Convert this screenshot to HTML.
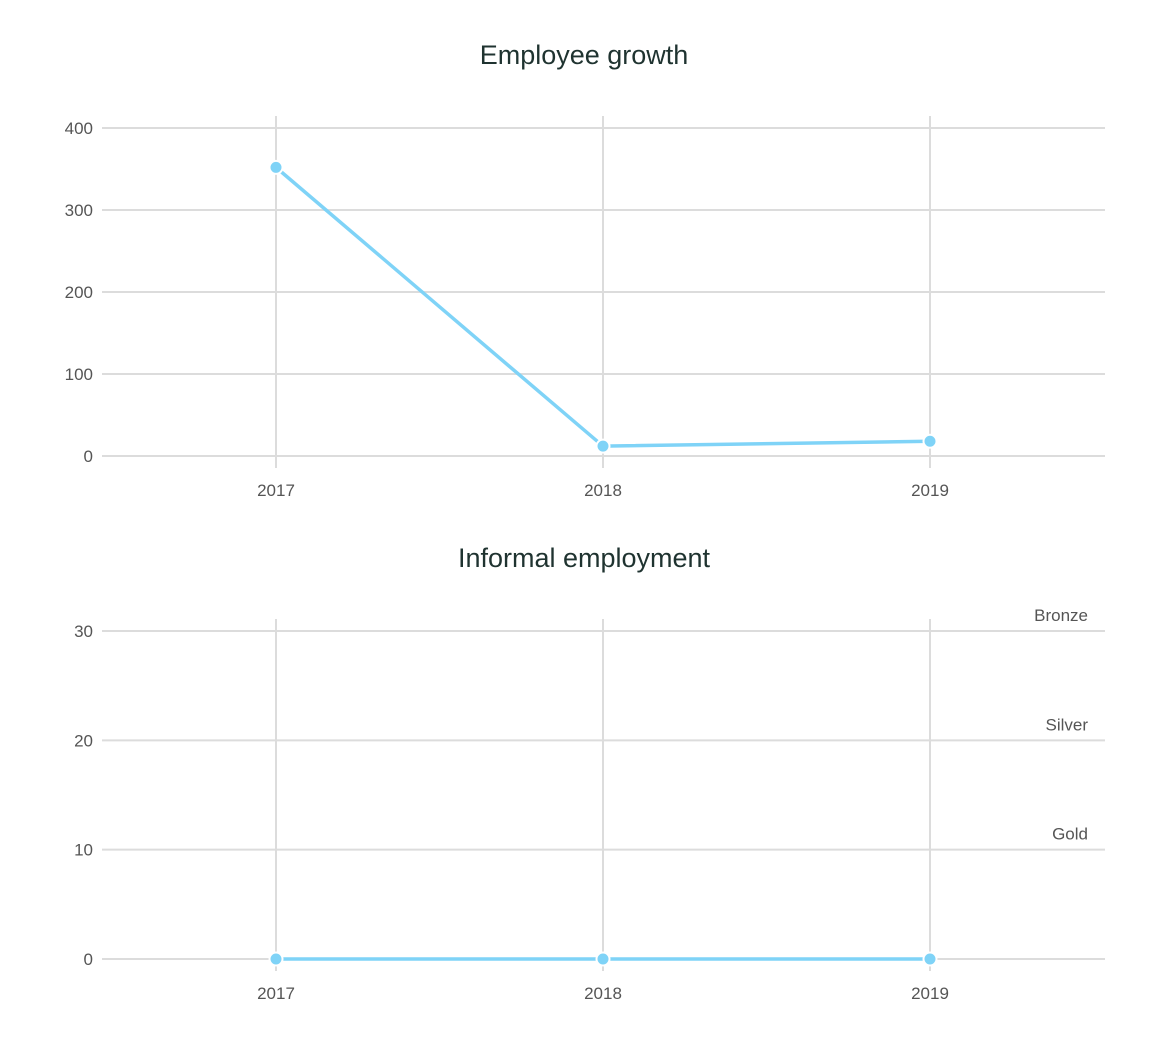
<!DOCTYPE html>
<html><head><meta charset="utf-8"><style>
body{margin:0;background:#fff;width:1160px;height:1033px;overflow:hidden;font-family:"Liberation Sans",sans-serif}
</style></head><body>
<svg id="svg" width="1160" height="1033"></svg>
<script>
const categories=["2017","2018","2019"];
const growthValues=[352,12,18];
const growthTicks=[0,100,200,300,400];
const informalValues=[0,0,0];
const informalTicks=[0,10,20,30];
const thresholdNames=["Gold","Silver","Bronze"];
const thresholdValues=[10,20,30];

const NS="http://www.w3.org/2000/svg";
const svg=document.getElementById('svg');
function mk(tag,attrs,parent){const e=document.createElementNS(NS,tag);for(const k in attrs)e.setAttribute(k,attrs[k]);(parent||svg).appendChild(e);return e;}
function xPos(i){return 276+i*327;}

function chart(title,titleY,vals,ticks,y0,yTop,maxV,name,thr){
  const g=mk('g',{});
  
  
  const y=v=>y0-(v/maxV)*(y0-yTop);
  const t=mk('text',{x:584,y:titleY,'text-anchor':'middle','font-size':27,fill:'#1f3330'},g);
  t.textContent=title;
  
  
  ticks.forEach(v=>{
    const l=mk('line',{x1:102,x2:1105,y1:y(v),y2:y(v),stroke:'#dcdcdc','stroke-width':2},g);
    
    
    const tx=mk('text',{x:93,y:y(v)+6,'text-anchor':'end','font-size':17,fill:'#555'},g);
    tx.textContent=v;
    
    
  });
  categories.forEach((c,i)=>{
    const l=mk('line',{x1:xPos(i),x2:xPos(i),y1:yTop-12,y2:y0+12,stroke:'#dcdcdc','stroke-width':2},g);
    
    
    const tx=mk('text',{x:xPos(i),y:y0+40,'text-anchor':'middle','font-size':17,fill:'#555'},g);
    tx.textContent=c;
    
    
  });
  if(thr){thresholdNames.forEach((n,i)=>{
    const tx=mk('text',{x:1088,y:y(thresholdValues[i])-10,'text-anchor':'end','font-size':17,fill:'#555'},g);
    tx.textContent=n;
    
    
  });}
  const p=mk('polyline',{points:vals.map((v,i)=>xPos(i)+','+y(v)).join(' '),fill:'none',stroke:'#7fd3f7','stroke-width':3.5},g);
  
  
  vals.forEach((v,i)=>{
    const c=mk('circle',{cx:xPos(i),cy:y(v),r:6.5,fill:'#7fd3f7',stroke:'#fff','stroke-width':2},g);
    
    
  });
}
chart("Employee growth",64,growthValues,growthTicks,456,128,400,'employee-growth-chart',false);
chart("Informal employment",567,informalValues,informalTicks,959,631,30,'informal-employment-chart',true);
</script>
</body></html>
